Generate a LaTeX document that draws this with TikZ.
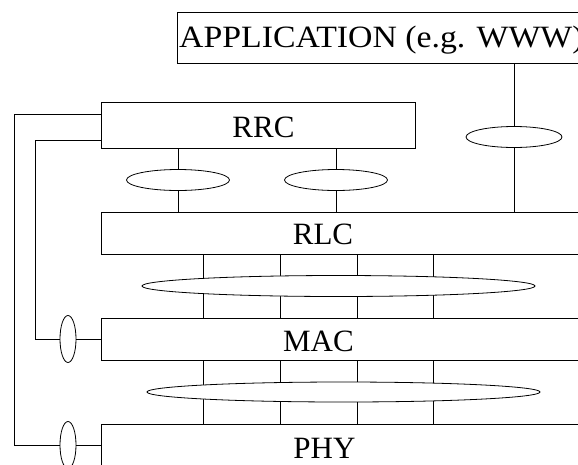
\documentclass[tikz,border=0pt]{standalone}
\usepackage{fontspec}
\usepackage{graphicx}
\setmainfont{Liberation Serif}
\usetikzlibrary{shapes.geometric}

\tikzset{
  layerbox/.style={draw, line width=0.8pt, inner sep=0pt, anchor=north west},
  sap/.style={ellipse, draw, fill=white, line width=0.8pt, inner sep=0pt},
  link/.style={line width=0.8pt},
  caption/.style={inner sep=0pt, anchor=base, font=\fontsize{31}{37}\selectfont}
}

\begin{document}
\begin{tikzpicture}[x=1pt, y=-1pt]
  \useasboundingbox (0,0) rectangle (578,464);
  \clip (0,0) rectangle (578,464);

  % protocol layers
  \node[layerbox, minimum width=450pt, minimum height=51pt] (app) at (177,12) {};
  \node[layerbox, minimum width=314pt, minimum height=46pt] (rrc) at (101,102) {};
  \node[layerbox, minimum width=560pt, minimum height=42pt] (rlc) at (101,212) {};
  \node[layerbox, minimum width=560pt, minimum height=42pt] (mac) at (101,318) {};
  \node[layerbox, minimum width=560pt, minimum height=60pt] (phy) at (101,424) {};

  % layer names
  \node[caption, anchor=base west] (appname) at (179,47)
    {\scalebox{1.09}[1]{APPLICATION (e.g. WWW)}};
  \node[caption] (rrcname) at (263.5,137) {RRC};
  \node[caption] (rlcname) at (323,244) {RLC};
  \node[caption] (macname) at (318.5,351) {MAC};
  \node[caption] (phyname) at (324.5,458) {PHY};

  % service access points above RLC
  \node[sap, minimum width=103pt, minimum height=21pt] (sa) at (178,180) {};
  \node[sap, minimum width=103pt, minimum height=21pt] (sb) at (336,180) {};
  \node[sap, minimum width=96pt, minimum height=21pt] (sc) at (514,137) {};

  \draw[link] (rrc.south -| sa) -- (sa) -- (rlc.north -| sa);
  \draw[link] (rrc.south -| sb) -- (sb) -- (rlc.north -| sb);
  \draw[link] (app.south -| sc) -- (sc) -- (rlc.north -| sc);

  % logical and transport channels
  \foreach \cx in {203,280,357,433} {
    \coordinate (c\cx) at (\cx,0);
    \draw[link] (rlc.south -| c\cx) -- (mac.north -| c\cx);
    \draw[link] (mac.south -| c\cx) -- (phy.north -| c\cx);
  }
  \node[sap, minimum width=393pt, minimum height=21pt] (logch) at (338.5,286) {};
  \node[sap, minimum width=393pt, minimum height=20pt] (trch) at (343.5,392) {};

  % control interfaces from RRC
  \node[sap, minimum width=16pt, minimum height=47pt] (cmac) at (68,339) {};
  \node[sap, minimum width=16pt, minimum height=47pt] (cphy) at (68,445) {};

  \coordinate (outtop) at (14,114);
  \coordinate (outbot) at (14,445);
  \coordinate (intop) at (35,140);
  \coordinate (inbot) at (35,339);

  \draw[link] (rrc.west |- outtop) -- (outtop) -- (outbot) -- (cphy);
  \draw[link] (cphy) -- (phy.west |- cphy);
  \draw[link] (rrc.west |- intop) -- (intop) -- (inbot) -- (cmac);
  \draw[link] (cmac) -- (mac.west |- cmac);
\end{tikzpicture}
\end{document}
